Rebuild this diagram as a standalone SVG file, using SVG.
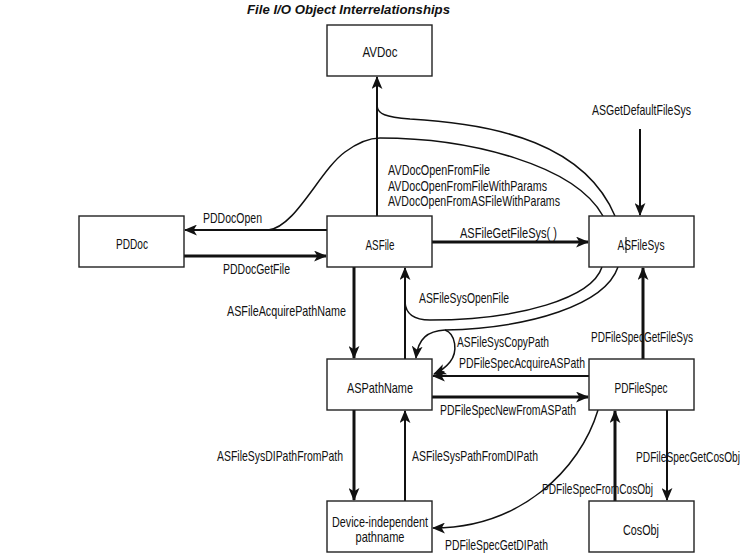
<svg xmlns="http://www.w3.org/2000/svg" width="753" height="560" viewBox="0 0 753 560">
<style>
  text { font-family: "Liberation Sans", Arial, sans-serif; font-size: 14.5px; fill: #111; }
  .title { font-weight: bold; font-style: italic; font-size: 13.5px; }
  .n { text-anchor: middle; }
  .box { fill: #fff; stroke: #222; stroke-width: 1.4; }
  .a2 { fill: none; stroke: #111; stroke-width: 2; }
  .a3 { fill: none; stroke: #111; stroke-width: 3; }
  .c { fill: none; stroke: #111; stroke-width: 1.5; }
</style>
<defs>
  <marker id="ah" viewBox="0 0 12 10" refX="11" refY="5" markerWidth="13" markerHeight="11" markerUnits="userSpaceOnUse" orient="auto">
    <path d="M0,0 L12,5 L0,10 L3,5 z" fill="#111"/>
  </marker>
</defs>
<rect width="753" height="560" fill="#fff"/>
<text class="title" x="247" y="14" textLength="203" lengthAdjust="spacingAndGlyphs">File I/O Object Interrelationships</text>

<g id="connectors">
  <path class="c" d="M377,106 C378,114 385,117 410,119 C500,124 585,145 615,216"/>
  <path class="c" d="M268,230 C295,228 320,170 345,152 C360,141 370,138 380,138 C470,138 575,165 603,216"/>
  <path class="c" d="M602,267 C592,298 520,320 430,320 Q406,320 405,302"/>
  <path class="c" d="M618,267 C605,305 530,328 445,330"/>
  <path class="c" marker-end="url(#ah)" d="M445,330 C428,331 418,338 416,358"/>
  <path class="c" marker-end="url(#ah)" d="M445,330 C456,334 458,352 450,362 C446,367 441,371 434,374"/>
  <path class="c" marker-end="url(#ah)" d="M598,410 C580,470 520,528 433,528"/>
  <path class="a2" marker-end="url(#ah)" d="M377,216 L377,77"/>
  <path class="a2" marker-end="url(#ah)" d="M327,230 L185,230"/>
  <path class="a3" marker-end="url(#ah)" d="M184,256 L326,256"/>
  <path class="a3" marker-end="url(#ah)" d="M432,242 L588,242"/>
  <path class="a2" marker-end="url(#ah)" d="M640,129 L640,215"/>
  <path class="a3" marker-end="url(#ah)" d="M354,267 L354,358"/>
  <path class="a2" marker-end="url(#ah)" d="M405,359 L405,268"/>
  <path class="a3" marker-end="url(#ah)" d="M643,359 L643,268"/>
  <path class="a2" marker-end="url(#ah)" d="M589,376 L433,376"/>
  <path class="a3" marker-end="url(#ah)" d="M432,397 L588,397"/>
  <path class="a3" marker-end="url(#ah)" d="M354,410 L354,500"/>
  <path class="a2" marker-end="url(#ah)" d="M405,501 L405,411"/>
  <path class="a3" marker-end="url(#ah)" d="M615,501 L615,411"/>
  <path class="a2" marker-end="url(#ah)" d="M667,410 L667,500"/>
</g>

<g id="labels">
  <text x="388" y="175" textLength="102" lengthAdjust="spacingAndGlyphs">AVDocOpenFromFile</text>
  <text x="388" y="190.5" textLength="159" lengthAdjust="spacingAndGlyphs">AVDocOpenFromFileWithParams</text>
  <text x="388" y="206" textLength="172" lengthAdjust="spacingAndGlyphs">AVDocOpenFromASFileWithParams</text>
  <text x="203" y="223" textLength="59" lengthAdjust="spacingAndGlyphs">PDDocOpen</text>
  <text x="223" y="274" textLength="67" lengthAdjust="spacingAndGlyphs">PDDocGetFile</text>
  <text x="460" y="238" textLength="97" lengthAdjust="spacingAndGlyphs">ASFileGetFileSys( )</text>
  <text x="592" y="115" textLength="99" lengthAdjust="spacingAndGlyphs">ASGetDefaultFileSys</text>
  <text x="227" y="316" textLength="119" lengthAdjust="spacingAndGlyphs">ASFileAcquirePathName</text>
  <text x="419" y="303" textLength="90" lengthAdjust="spacingAndGlyphs">ASFileSysOpenFile</text>
  <text x="457" y="347" textLength="92" lengthAdjust="spacingAndGlyphs">ASFileSysCopyPath</text>
  <text x="459" y="368" textLength="126" lengthAdjust="spacingAndGlyphs">PDFileSpecAcquireASPath</text>
  <text x="591" y="342" textLength="102" lengthAdjust="spacingAndGlyphs">PDFileSpecGetFileSys</text>
  <text x="440" y="415" textLength="136" lengthAdjust="spacingAndGlyphs">PDFileSpecNewFromASPath</text>
  <text x="217" y="461" textLength="126" lengthAdjust="spacingAndGlyphs">ASFileSysDIPathFromPath</text>
  <text x="412" y="461" textLength="126" lengthAdjust="spacingAndGlyphs">ASFileSysPathFromDIPath</text>
  <text x="636" y="462" textLength="104" lengthAdjust="spacingAndGlyphs">PDFileSpecGetCosObj</text>
  <text x="542" y="494" textLength="111" lengthAdjust="spacingAndGlyphs">PDFileSpecFromCosObj</text>
  <text x="445" y="550" textLength="103" lengthAdjust="spacingAndGlyphs">PDFileSpecGetDIPath</text>
</g>

<g id="AVDoc">
  <rect class="box" x="327" y="25" width="105" height="51"/>
  <text class="n" x="380" y="57" textLength="35" lengthAdjust="spacingAndGlyphs">AVDoc</text>
</g>
<g id="PDDoc">
  <rect class="box" x="79" y="216" width="105" height="51"/>
  <text class="n" x="132" y="249" textLength="32" lengthAdjust="spacingAndGlyphs">PDDoc</text>
</g>
<g id="ASFile">
  <rect class="box" x="327" y="216" width="105" height="51"/>
  <text class="n" x="380" y="250" textLength="29" lengthAdjust="spacingAndGlyphs">ASFile</text>
</g>
<g id="ASFileSys">
  <rect class="box" x="589" y="216" width="105" height="51"/>
  <text class="n" x="641" y="250" textLength="47" lengthAdjust="spacingAndGlyphs">ASFileSys</text>
  <line x1="626" y1="237" x2="626" y2="253" stroke="#111" stroke-width="1"/>
</g>
<g id="ASPathName">
  <rect class="box" x="327" y="359" width="105" height="51"/>
  <text class="n" x="380" y="393" textLength="66" lengthAdjust="spacingAndGlyphs">ASPathName</text>
</g>
<g id="PDFileSpec">
  <rect class="box" x="589" y="359" width="105" height="51"/>
  <text class="n" x="641" y="393" textLength="53" lengthAdjust="spacingAndGlyphs">PDFileSpec</text>
</g>
<g id="DIPathname">
  <rect class="box" x="327" y="501" width="105" height="51"/>
  <text class="n" x="380" y="527" textLength="96" lengthAdjust="spacingAndGlyphs">Device-independent</text>
  <text class="n" x="380" y="542" textLength="49" lengthAdjust="spacingAndGlyphs">pathname</text>
</g>
<g id="CosObj">
  <rect class="box" x="589" y="501" width="105" height="51"/>
  <text class="n" x="641" y="535" textLength="36" lengthAdjust="spacingAndGlyphs">CosObj</text>
</g>
</svg>
